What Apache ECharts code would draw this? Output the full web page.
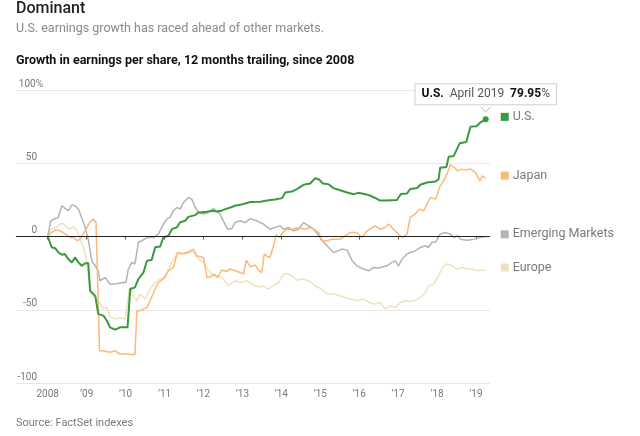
<!DOCTYPE html>
<html>
<head>
<meta charset="utf-8">
<title>Dominant</title>
<script src="https://cdn.jsdelivr.net/npm/echarts@6/dist/echarts.min.js"></script>
<style>
  html, body { margin: 0; padding: 0; background: #fff; }
  #chart { width: 640px; height: 436px; }
</style>
</head>
<body>
<div id="chart"></div>
<script>
// readings, years as decimal dates
const usYears = [2008.0, 2008.10, 2008.19, 2008.27, 2008.36, 2008.44, 2008.53, 2008.62, 2008.70, 2008.79, 2008.87, 2008.96, 2009.04, 2009.09, 2009.22, 2009.30, 2009.43, 2009.52, 2009.60, 2009.73, 2009.86, 2010.05, 2010.12, 2010.24, 2010.33, 2010.46, 2010.55, 2010.67, 2010.76, 2010.89, 2010.97, 2011.10, 2011.19, 2011.32, 2011.40, 2011.53, 2011.61, 2011.79, 2011.87, 2012.09, 2012.22, 2012.34, 2012.47, 2012.56, 2012.69, 2012.81, 2012.94, 2013.07, 2013.20, 2013.46, 2013.71, 2013.84, 2014.02, 2014.10, 2014.27, 2014.40, 2014.57, 2014.74, 2014.87, 2014.96, 2015.07, 2015.21, 2015.34, 2015.51, 2015.69, 2015.86, 2015.98, 2016.16, 2016.29, 2016.41, 2016.54, 2016.71, 2016.97, 2017.07, 2017.23, 2017.31, 2017.49, 2017.57, 2017.74, 2017.96, 2018.04, 2018.08, 2018.24, 2018.30, 2018.43, 2018.58, 2018.75, 2018.86, 2019.01, 2019.11, 2019.25];
const usValues = [0, -7.3, -8, -10.7, -12.5, -12, -15.4, -17.7, -14.3, -17.7, -20, -18.4, -18, -37, -40.5, -53, -54, -57.5, -62, -63.6, -62, -62, -35.8, -34.7, -29, -24.5, -16.6, -16, -7.3, -6.8, -0.5, 0.5, 5, 6.3, 9.7, 10.7, 13.4, 14.6, 16.4, 16.9, 17.6, 17.1, 17.6, 18.7, 19.8, 21, 21.6, 22.5, 23.5, 23.7, 24.9, 25.3, 26.2, 30, 30.7, 32.4, 35.3, 36.2, 39.8, 39.1, 36.2, 35.7, 33, 31.6, 30, 28.9, 29.8, 28.9, 27.8, 26.3, 24.5, 24.5, 24.9, 29, 29.4, 32.4, 33.1, 35.3, 36.9, 37.6, 39.1, 47, 47.5, 54.5, 55, 63.6, 64.5, 75, 75.3, 77.8, 79.95];

const japanYears = [2008.0, 2008.10, 2008.19, 2008.32, 2008.44, 2008.57, 2008.66, 2008.76, 2008.83, 2008.96, 2009.09, 2009.17, 2009.24, 2009.33, 2009.43, 2009.60, 2009.73, 2009.86, 2010.03, 2010.24, 2010.29, 2010.37, 2010.55, 2010.63, 2010.72, 2010.84, 2010.97, 2011.10, 2011.23, 2011.33, 2011.44, 2011.57, 2011.66, 2011.74, 2011.83, 2012.00, 2012.09, 2012.17, 2012.28, 2012.36, 2012.47, 2012.58, 2012.69, 2012.81, 2012.94, 2013.03, 2013.10, 2013.20, 2013.33, 2013.41, 2013.50, 2013.56, 2013.65, 2013.71, 2013.80, 2013.87, 2013.95, 2014.04, 2014.14, 2014.27, 2014.44, 2014.61, 2014.74, 2014.87, 2014.96, 2015.04, 2015.17, 2015.30, 2015.51, 2015.64, 2015.77, 2015.94, 2016.07, 2016.20, 2016.33, 2016.41, 2016.54, 2016.67, 2016.76, 2016.88, 2017.01, 2017.10, 2017.23, 2017.31, 2017.44, 2017.55, 2017.66, 2017.74, 2017.83, 2017.96, 2018.08, 2018.17, 2018.27, 2018.34, 2018.45, 2018.53, 2018.62, 2018.73, 2018.86, 2018.99, 2019.10, 2019.16, 2019.25];
const japanValues = [0, 2.7, 4.4, 3.9, 2, -0.7, -0.7, -2.9, -1.8, 3.9, 10.2, 11.9, 9.5, -78, -78, -79, -78, -80.2, -80.2, -80.7, -50.7, -50.7, -48.4, -43.9, -38.2, -31.4, -29, -23.4, -21.1, -10.9, -12, -10.9, -9.8, -8.6, -13.2, -14.3, -28, -27.5, -25.6, -28, -22.9, -23.9, -22.2, -23.4, -24.6, -25.6, -16.1, -20.7, -19.5, -22.9, -24.6, -12, -13.8, -14.3, -6.3, 1.2, -0.7, 2.7, 5, 5, 6.1, 5, 6.1, 4.4, 2.7, -2.9, -2.9, -1.8, -1.8, 0.5, 2.7, 2.7, -0.7, 3.9, 6.1, 7.3, 5, 6.1, 8.5, 5, 1.6, -0.7, 1.6, 13, 15.3, 18.7, 17.6, 22.1, 26.6, 25.5, 34.6, 38, 43.6, 49, 47, 44.8, 46, 45.3, 46, 43.6, 38, 41.4, 39.8];

const emYears = [2008.0, 2008.08, 2008.19, 2008.27, 2008.36, 2008.47, 2008.53, 2008.62, 2008.70, 2008.79, 2008.87, 2008.96, 2009.04, 2009.13, 2009.22, 2009.30, 2009.34, 2009.47, 2009.60, 2009.73, 2009.90, 2010.01, 2010.07, 2010.16, 2010.24, 2010.33, 2010.42, 2010.55, 2010.72, 2010.84, 2010.97, 2011.06, 2011.14, 2011.23, 2011.32, 2011.40, 2011.49, 2011.61, 2011.70, 2011.79, 2011.87, 2012.00, 2012.13, 2012.26, 2012.43, 2012.51, 2012.62, 2012.73, 2012.81, 2012.94, 2013.07, 2013.20, 2013.37, 2013.54, 2013.71, 2013.84, 2013.97, 2014.06, 2014.19, 2014.31, 2014.44, 2014.57, 2014.70, 2014.83, 2014.96, 2015.09, 2015.21, 2015.34, 2015.45, 2015.56, 2015.69, 2015.82, 2015.94, 2016.11, 2016.24, 2016.37, 2016.50, 2016.71, 2016.84, 2016.93, 2017.01, 2017.10, 2017.23, 2017.31, 2017.44, 2017.57, 2017.70, 2017.78, 2017.87, 2017.96, 2018.08, 2018.21, 2018.34, 2018.43, 2018.53, 2018.60, 2018.77, 2018.94, 2019.11, 2019.25];
const emValues = [0, 10.7, 12.3, 13, 21, 18.7, 17.6, 21.6, 21, 18.7, 13, 6.1, -1.8, -16.6, -20, -23.4, -30.2, -28, -32.5, -32.5, -31.4, -31.4, -22.2, -17.7, -18.8, -3.9, -2.9, -0.7, -0.7, 1.6, 8.5, 11.9, 13, 17.6, 19.8, 18.7, 23.3, 26.6, 25.5, 19.8, 16.4, 15.3, 16.4, 19, 15.3, 10.7, 5, 5.5, 9.5, 10.7, 9.5, 12.2, 10.7, 8.5, 5, 6.1, 7.3, 5, 6.1, 3.9, 5, 9.5, 7.3, 5, 0.5, -3.9, -7.3, -10.9, -9.8, -8.6, -9.3, -16.6, -20, -22.2, -23.4, -21.1, -21.5, -20, -17.7, -16.6, -20, -15.4, -12, -10.9, -9.8, -7.5, -6.3, -7.5, -3.9, -3.9, 1.6, 2.7, 1.6, -0.7, 0.5, -1.8, -2.5, -1.8, -0.7, -0.2];

const europeYears = [2008.0, 2008.10, 2008.23, 2008.32, 2008.40, 2008.49, 2008.57, 2008.66, 2008.75, 2008.83, 2008.92, 2009.00, 2009.09, 2009.17, 2009.30, 2009.43, 2009.52, 2009.60, 2009.73, 2009.86, 2009.99, 2010.10, 2010.20, 2010.29, 2010.37, 2010.50, 2010.63, 2010.76, 2010.89, 2011.02, 2011.10, 2011.23, 2011.36, 2011.53, 2011.66, 2011.74, 2011.83, 2012.00, 2012.13, 2012.26, 2012.39, 2012.51, 2012.64, 2012.81, 2012.94, 2013.12, 2013.29, 2013.46, 2013.54, 2013.67, 2013.80, 2013.93, 2014.06, 2014.14, 2014.27, 2014.40, 2014.57, 2014.74, 2014.87, 2015.04, 2015.17, 2015.34, 2015.51, 2015.64, 2015.77, 2015.94, 2016.11, 2016.29, 2016.41, 2016.54, 2016.67, 2016.80, 2016.93, 2017.06, 2017.19, 2017.31, 2017.44, 2017.57, 2017.70, 2017.78, 2017.91, 2018.04, 2018.17, 2018.27, 2018.39, 2018.51, 2018.64, 2018.77, 2018.90, 2019.03, 2019.25];
const europeValues = [0, 5, 6.6, 8.5, 8.9, 6.1, 5, 6.6, 3.9, -1.8, -7.5, -16.6, -38.2, -40.5, -43.9, -49.5, -48.4, -54.8, -56.4, -55.7, -56.4, -34.8, -40.5, -43.9, -39.3, -42.7, -35.9, -31.4, -29, -28, -22.2, -15.4, -10.9, -12, -10.9, -9.8, -14.3, -17.7, -23.4, -26.8, -26.8, -29, -33.6, -30.2, -31.4, -30.2, -33.6, -34.5, -33.6, -35.9, -33.6, -31.4, -25.6, -25.2, -26.8, -29.8, -29, -30.7, -33.6, -35.9, -39.3, -39.3, -40.5, -41.6, -42.7, -43.9, -42.7, -45.5, -46, -45, -49.5, -47.3, -48.4, -45, -43.9, -44.4, -43.4, -41.6, -38.2, -33.6, -32.5, -26.8, -20, -18.8, -20, -22.2, -21.1, -22.2, -22.2, -23.4, -22.9];

const tickYears = [2008, 2009, 2010, 2011, 2012, 2013, 2014, 2015, 2016, 2017, 2018, 2019];
const tickLabels = ["2008", "\u201909", "\u201910", "\u201911", "\u201912", "\u201913", "\u201914", "\u201915", "\u201916", "\u201917", "\u201918", "\u201919"];
const yTicks = [-100, -50, 0, 50, 100];
const lastLabelMonth = "April 2019";

const FONT = "Roboto, 'Noto Sans', sans-serif";
const GREY = "#7a7a7a";

function pairs(xs, ys) {
  return xs.map((x, i) => [x, ys[i]]);
}

function endLabel(name, color) {
  return {
    show: true,
    distance: 15,
    offset: [0, -2.5],
    formatter: "{sq|}{t|" + name + "}",
    rich: {
      sq: { width: 8, height: 8, backgroundColor: color },
      t: { color: GREY, fontFamily: FONT, fontSize: 12.5, padding: [0, 0, 0, 4] }
    }
  };
}

function lineSeries(name, xs, ys, color, width) {
  return {
    name: name,
    type: "line",
    data: pairs(xs, ys),
    symbol: "none",
    lineStyle: { color: color, width: width },
    itemStyle: { color: color },
    endLabel: endLabel(name, color),
    labelLayout: { hideOverlap: false },
    emphasis: { disabled: true },
    silent: true
  };
}

function buildOption() {
  const usData = pairs(usYears, usValues);
  const last = usData.length - 1;
  usData[last] = {
    value: usData[last],
    symbol: "circle",
    symbolSize: 6,
    label: {
      show: true,
      position: "top",
      distance: 12,
      backgroundColor: "#fff",
      borderColor: "#cfcfcf",
      borderWidth: 1,
      padding: [4, 6, 4, 6],
      formatter: p => "{b|U.S.}  {m|" + lastLabelMonth + "}  {b|" + p.value[1].toFixed(2) + "}{m|%}",
      rich: {
        b: { fontFamily: FONT, fontSize: 12, fontWeight: "bold", color: "#111" },
        m: { fontFamily: FONT, fontSize: 12, color: "#555" }
      }
    }
  };

  const europe = lineSeries("Europe", europeYears, europeValues, "#eee2bf", 1.5);
  europe.markLine = {
    silent: true,
    symbol: "none",
    animation: false,
    label: { show: false },
    lineStyle: { color: "#222", width: 1, type: "solid" },
    data: [{ yAxis: 0 }]
  };

  const us = lineSeries("U.S.", usYears, usValues, "#3a9a40", 2);
  us.data = usData;
  us.showSymbol = true;
  us.markPoint = {
    silent: true,
    symbol: "path://M0,0L5,5L10,0",
    symbolSize: [10, 5],
    symbolOffset: [0, -10],
    itemStyle: { color: "#fff", borderColor: "#cfcfcf", borderWidth: 1 },
    label: { show: false },
    data: [{ coord: usData[last].value }]
  };

  const topTick = yTicks[yTicks.length - 1];

  return {
    animation: false,
    backgroundColor: "#fff",
    textStyle: { fontFamily: FONT },
    graphic: [
      { type: "text", left: 16, top: 1, style: { text: "Dominant", font: "500 16px " + FONT, fill: "#222" } },
      { type: "text", left: 16, top: 22, style: { text: "U.S. earnings growth has raced ahead of other markets.", font: "12.5px " + FONT, fill: "#8a8a8a" } },
      { type: "text", left: 16, top: 54, style: { text: "Growth in earnings per share, 12 months trailing, since 2008", font: "bold 12.5px " + FONT, fill: "#111" } },
      { type: "text", left: 16, top: 418, style: { text: "Source: FactSet indexes", font: "11px " + FONT, fill: GREY } }
    ],
    grid: { left: 16, right: 150, top: 90, bottom: 53 },
    xAxis: {
      type: "value",
      min: 2007.185,
      max: 2019.36,
      splitLine: { show: false },
      axisLine: { lineStyle: { color: "#e4e4e4" } },
      axisTick: { customValues: tickYears, length: 3, lineStyle: { color: "#555" } },
      axisLabel: {
        customValues: tickYears,
        color: GREY,
        fontSize: 10,
        margin: 6,
        formatter: v => tickLabels[tickYears.indexOf(Math.round(v))]
      }
    },
    yAxis: {
      type: "value",
      min: -100,
      max: 100,
      interval: 50,
      axisLine: { show: false },
      axisTick: { show: false },
      splitLine: { lineStyle: { color: "#e8e8e8", width: 1 } },
      axisLabel: {
        inside: true,
        margin: 0,
        verticalAlign: "bottom",
        formatter: v => v === topTick ? "{w|" + v + "%}" : "{n|" + v + "}",
        rich: {
          n: { width: 21, align: "right", color: GREY, fontSize: 10, fontFamily: FONT, padding: [0, 0, 1, 0] },
          w: { width: 27, align: "right", color: GREY, fontSize: 10, fontFamily: FONT, padding: [0, 0, 1, 0] }
        }
      }
    },
    series: [
      europe,
      lineSeries("Emerging Markets", emYears, emValues, "#b4b4b4", 1.5),
      lineSeries("Japan", japanYears, japanValues, "#ffb877", 1.5),
      us
    ]
  };
}

function initChart() {
  const chart = echarts.init(document.getElementById("chart"), null, { renderer: "canvas" });
  chart.setOption(buildOption());
}

document.addEventListener("DOMContentLoaded", initChart);
</script>
</body>
</html>
